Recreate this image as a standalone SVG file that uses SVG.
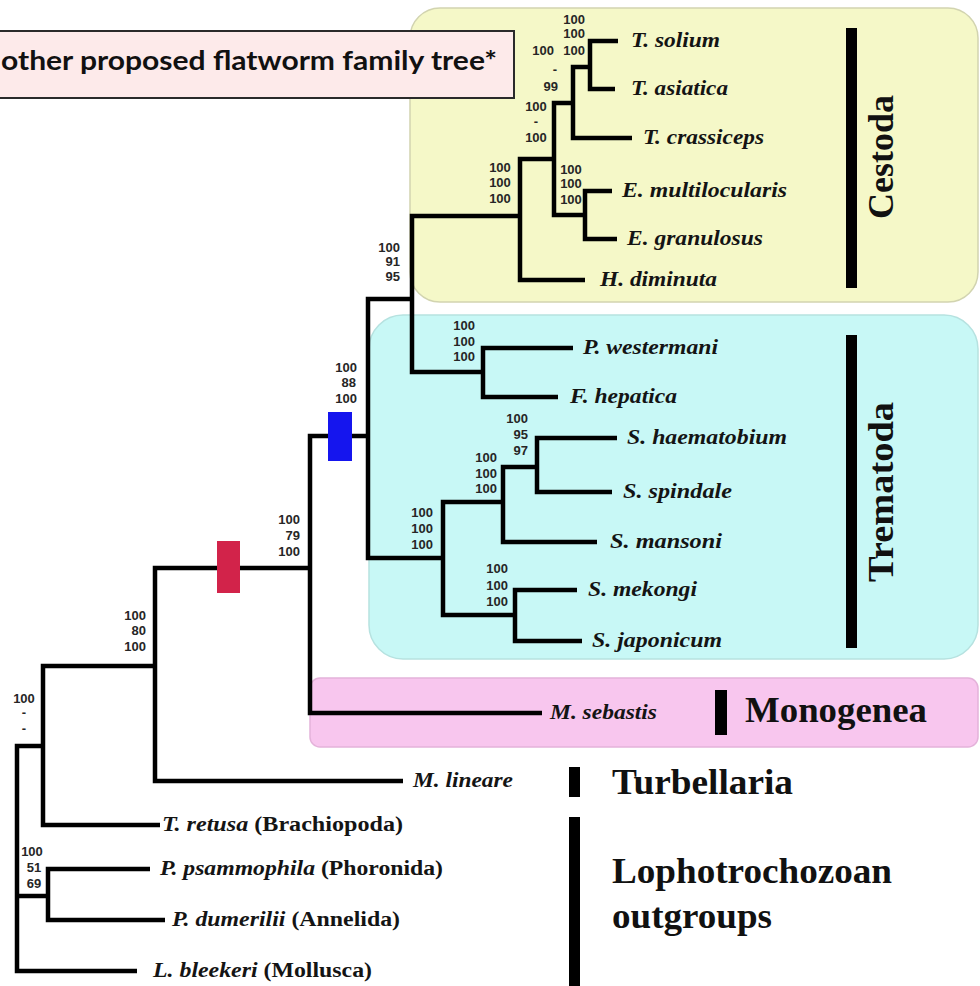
<svg xmlns="http://www.w3.org/2000/svg" width="980" height="986" viewBox="0 0 980 986">
<style>
.tx{font-family:"Liberation Serif","Times New Roman",serif;font-weight:bold;font-style:italic;font-size:20px;fill:#141414}
.up{font-style:normal}
.num{font-family:"Liberation Sans",Arial,sans-serif;font-weight:bold;font-size:13px;fill:#262626;text-anchor:end}
.numc{font-family:"Liberation Sans",Arial,sans-serif;font-weight:bold;font-size:13px;fill:#262626;text-anchor:middle}
.grp{font-family:"Liberation Serif","Times New Roman",serif;font-weight:bold;font-size:36px;fill:#111}
.br{stroke:#000;stroke-width:4.5;fill:none;stroke-linejoin:miter;stroke-linecap:butt}
.bar{fill:#000}
</style>
<rect width="980" height="986" fill="#ffffff"/>

<g id="clade-boxes">
<rect id="box-cestoda" x="410" y="8" width="568" height="294" rx="30" fill="#f5f8c8" stroke="#d2d4b0" stroke-width="1.5"/>
<rect id="box-trematoda" x="369" y="315" width="609" height="344" rx="34" fill="#c8f8f6" stroke="#b6e2e0" stroke-width="1.5"/>
<rect id="box-monogenea" x="310" y="678" width="668" height="69" rx="10" fill="#f8c6ee" stroke="#e4b2da" stroke-width="1.5"/>
</g>

<g id="title">
<rect x="-2" y="31" width="516" height="67" fill="#fdeaea" stroke="#2a2a2a" stroke-width="2"/>
<text x="1" y="70" textLength="496" lengthAdjust="spacingAndGlyphs" style="font-family:Lato,'Open Sans','Liberation Sans',sans-serif;font-weight:bold;font-size:26px;fill:#111">other proposed flatworm family tree*</text>
</g>

<g id="connectors">
<path class="br" d="M618,41 H590 V89 H615"/>
<path class="br" d="M590,67 H573 V138 H632"/>
<path class="br" d="M612,191 H585 V239 H617"/>
<path class="br" d="M573,103 H554 V215 H585"/>
<path class="br" d="M554,159 H520 V280 H585"/>
<path class="br" d="M573,348 H483 V397 H558"/>
<path class="br" d="M520,216 H412 V372 H483"/>
<path class="br" d="M617,438 H537 V492 H612"/>
<path class="br" d="M537,467 H503 V542 H597"/>
<path class="br" d="M577,590 H515 V641 H582"/>
<path class="br" d="M503,502 H443 V615 H515"/>
<path class="br" d="M412,299 H368 V558 H443"/>
<path class="br" d="M368,436 H310 V713 H542"/>
<path class="br" d="M310,568 H155 V781 H403"/>
<path class="br" d="M155,666 H43 V825 H160"/>
<path class="br" d="M150,869 H48 V920 H165"/>
<path class="br" d="M43,746 H17 V971 H137"/>
<path class="br" d="M17,896 H48"/>
</g>

<g id="markers">
<rect id="marker-red" x="217" y="541" width="23" height="52" fill="#d2234a"/>
<rect id="marker-blue" x="328" y="412" width="24" height="49" fill="#1515ee"/>
</g>

<g id="support-values">
<text class="num" x="585" y="24">100</text><text class="num" x="585" y="38">100</text><text class="num" x="585" y="55">100</text>
<text class="num" x="554" y="55">100</text><text class="num" x="557" y="74">-</text><text class="num" x="558" y="91">99</text>
<text class="numc" x="536" y="111">100</text><text class="numc" x="536" y="126">-</text><text class="numc" x="536" y="142">100</text>
<text class="numc" x="500" y="172">100</text><text class="numc" x="500" y="187">100</text><text class="numc" x="500" y="203">100</text>
<text class="numc" x="571" y="174">100</text><text class="numc" x="571" y="188">100</text><text class="numc" x="571" y="204">100</text>
<text class="num" x="400" y="252">100</text><text class="num" x="400" y="266">91</text><text class="num" x="400" y="281">95</text>
<text class="num" x="357" y="372">100</text><text class="num" x="356" y="387">88</text><text class="num" x="357" y="403">100</text>
<text class="num" x="475" y="330">100</text><text class="num" x="475" y="346">100</text><text class="num" x="475" y="361">100</text>
<text class="num" x="528" y="423">100</text><text class="num" x="528" y="439">95</text><text class="num" x="528" y="455">97</text>
<text class="num" x="497" y="462">100</text><text class="num" x="497" y="478">100</text><text class="num" x="497" y="493">100</text>
<text class="num" x="433" y="517">100</text><text class="num" x="433" y="533">100</text><text class="num" x="433" y="549">100</text>
<text class="num" x="508" y="573">100</text><text class="num" x="508" y="590">100</text><text class="num" x="508" y="606">100</text>
<text class="num" x="300" y="524">100</text><text class="num" x="300" y="540">79</text><text class="num" x="300" y="556">100</text>
<text class="num" x="146" y="620">100</text><text class="num" x="146" y="635">80</text><text class="num" x="146" y="651">100</text>
<text class="numc" x="24" y="703">100</text><text class="numc" x="24" y="717">-</text><text class="numc" x="24" y="733">-</text>
<text class="numc" x="32" y="856">100</text><text class="numc" x="34" y="872">51</text><text class="numc" x="34" y="888">69</text>
</g>

<g id="taxon-t-solium"><text class="tx" x="631" y="47" textLength="89" lengthAdjust="spacingAndGlyphs">T. solium</text></g>
<g id="taxon-t-asiatica"><text class="tx" x="631" y="95" textLength="97" lengthAdjust="spacingAndGlyphs">T. asiatica</text></g>
<g id="taxon-t-crassiceps"><text class="tx" x="643" y="144" textLength="121" lengthAdjust="spacingAndGlyphs">T. crassiceps</text></g>
<g id="taxon-e-multilocularis"><text class="tx" x="622" y="197" textLength="165" lengthAdjust="spacingAndGlyphs">E. multilocularis</text></g>
<g id="taxon-e-granulosus"><text class="tx" x="627" y="245" textLength="136" lengthAdjust="spacingAndGlyphs">E. granulosus</text></g>
<g id="taxon-h-diminuta"><text class="tx" x="600" y="286" textLength="117" lengthAdjust="spacingAndGlyphs">H. diminuta</text></g>
<g id="taxon-p-westermani"><text class="tx" x="583" y="354" textLength="135" lengthAdjust="spacingAndGlyphs">P. westermani</text></g>
<g id="taxon-f-hepatica"><text class="tx" x="570" y="403" textLength="107" lengthAdjust="spacingAndGlyphs">F. hepatica</text></g>
<g id="taxon-s-haematobium"><text class="tx" x="627" y="444" textLength="160" lengthAdjust="spacingAndGlyphs">S. haematobium</text></g>
<g id="taxon-s-spindale"><text class="tx" x="623" y="498" textLength="109" lengthAdjust="spacingAndGlyphs">S. spindale</text></g>
<g id="taxon-s-mansoni"><text class="tx" x="610" y="548" textLength="112" lengthAdjust="spacingAndGlyphs">S. mansoni</text></g>
<g id="taxon-s-mekongi"><text class="tx" x="588" y="596" textLength="109" lengthAdjust="spacingAndGlyphs">S. mekongi</text></g>
<g id="taxon-s-japonicum"><text class="tx" x="592" y="647" textLength="130" lengthAdjust="spacingAndGlyphs">S. japonicum</text></g>
<g id="taxon-m-sebastis"><text class="tx" x="550" y="719" textLength="107" lengthAdjust="spacingAndGlyphs">M. sebastis</text></g>
<g id="taxon-m-lineare"><text class="tx" x="413" y="787" textLength="100" lengthAdjust="spacingAndGlyphs">M. lineare</text></g>
<g id="taxon-t-retusa"><text class="tx" x="162" y="831" textLength="241" lengthAdjust="spacingAndGlyphs">T. retusa <tspan class="up">(Brachiopoda)</tspan></text></g>
<g id="taxon-p-psammophila"><text class="tx" x="160" y="875" textLength="283" lengthAdjust="spacingAndGlyphs">P. psammophila <tspan class="up">(Phoronida)</tspan></text></g>
<g id="taxon-p-dumerilii"><text class="tx" x="172" y="926" textLength="228" lengthAdjust="spacingAndGlyphs">P. dumerilii <tspan class="up">(Annelida)</tspan></text></g>
<g id="taxon-l-bleekeri"><text class="tx" x="153" y="977" textLength="219" lengthAdjust="spacingAndGlyphs">L. bleekeri <tspan class="up">(Mollusca)</tspan></text></g>

<g id="group-cestoda">
<rect class="bar" x="846" y="28" width="11" height="260"/>
<text class="grp" transform="translate(893,157) rotate(-90)" text-anchor="middle" textLength="124" lengthAdjust="spacingAndGlyphs">Cestoda</text>
</g>
<g id="group-trematoda">
<rect class="bar" x="846" y="335" width="11" height="313"/>
<text class="grp" transform="translate(893,492) rotate(-90)" text-anchor="middle" textLength="180" lengthAdjust="spacingAndGlyphs">Trematoda</text>
</g>
<g id="group-monogenea">
<rect class="bar" x="715" y="690" width="12" height="45"/>
<text class="grp" x="745" y="722" textLength="182" lengthAdjust="spacingAndGlyphs">Monogenea</text>
</g>
<g id="group-turbellaria">
<rect class="bar" x="569" y="767" width="11" height="30"/>
<text class="grp" x="612" y="794" textLength="181" lengthAdjust="spacingAndGlyphs">Turbellaria</text>
</g>
<g id="group-outgroups">
<rect class="bar" x="569" y="817" width="11" height="169"/>
<text class="grp" x="612" y="883" textLength="280" lengthAdjust="spacingAndGlyphs">Lophotrochozoan</text>
<text class="grp" x="612" y="928" textLength="160" lengthAdjust="spacingAndGlyphs">outgroups</text>
</g>
</svg>
